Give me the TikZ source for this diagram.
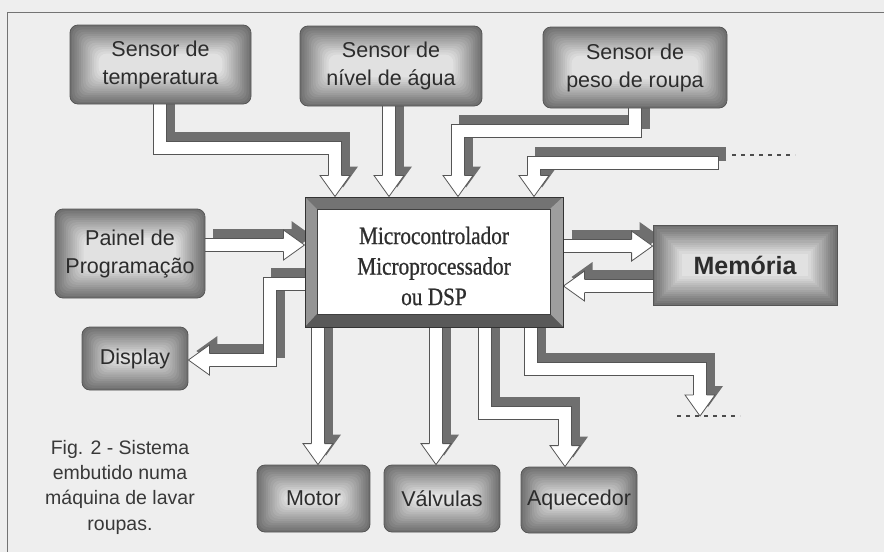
\documentclass[tikz,border=0pt]{standalone}
\usepackage{fontspec}
\setmainfont{Liberation Sans}
\newfontfamily\serfont[FakeStretch=0.85,FakeBold=0.8]{Liberation Serif}
\usetikzlibrary{calc}
\pgfdeclarelayer{bgl}
\pgfdeclarelayer{shad}
\pgfdeclarelayer{band}
\pgfsetlayers{bgl,shad,band,main}
\definecolor{bgc}{HTML}{EEEEEE}
\definecolor{txt}{HTML}{2C2C2C}
\definecolor{shc}{HTML}{6F6F6F}
\definecolor{edgec}{HTML}{555555}
\newcommand\glowfill[1]{%
  \foreach \k in {0,...,13}{%
    \pgfmathsetmacro\gc{56-3.4*\k}%
    \fill[black!\gc, rounded corners=#1]
      ($(path picture bounding box.south west)+(\k*2.2pt,\k*2.2pt)$) rectangle
      ($(path picture bounding box.north east)-(\k*2.2pt,\k*2.2pt)$);
  }}
\newcommand\fat[3]{%
  \begin{pgfonlayer}{shad}
    \begin{scope}[transform canvas={shift={(8pt,9pt)}}]
      \draw[shband] #1;
      \fill[shc, shift={(#2)}, rotate=#3] (-21,7) -- (-21,15) -- (0,0) -- (-21,-15) -- (-21,-7) -- cycle;
    \end{scope}
  \end{pgfonlayer}
  \begin{pgfonlayer}{band}
    \draw[bandout] #1;
    \draw[bandin] #1;
    \filldraw[fill=white, draw=edgec, line width=0.8pt, shift={(#2)}, rotate=#3]
      (-21,6.6) -- (-21,15) -- (0,0) -- (-21,-15) -- (-21,-6.6);
  \end{pgfonlayer}}
\tikzset{
  glow/.style={draw=edgec, line width=0.8pt, rounded corners=#1, inner sep=0pt,
    align=center, text=txt, font=\fontsize{21.5pt}{28pt}\selectfont,
    path picture={\glowfill{#1}}},
  glow/.default=8pt,
  mainbox/.style={minimum width=258pt, minimum height=130pt, inner sep=0pt,
    draw=black!80, line width=1pt, fill=black!55,
    path picture={
      \fill[black!42] (path picture bounding box.south west) -- ([shift={(12pt,13pt)}]path picture bounding box.south west)
        -- ([shift={(12pt,-12pt)}]path picture bounding box.north west) -- (path picture bounding box.north west) -- cycle;
      \fill[black!38] (path picture bounding box.south east) -- ([shift={(-13pt,13pt)}]path picture bounding box.south east)
        -- ([shift={(-13pt,-12pt)}]path picture bounding box.north east) -- (path picture bounding box.north east) -- cycle;
      \fill[black!65] (path picture bounding box.south west) -- ([shift={(12pt,13pt)}]path picture bounding box.south west)
        -- ([shift={(-13pt,13pt)}]path picture bounding box.south east) -- (path picture bounding box.south east) -- cycle;
      \filldraw[fill=white, draw=black!75, line width=0.8pt]
        ([shift={(12pt,13pt)}]path picture bounding box.south west) rectangle
        ([shift={(-13pt,-12pt)}]path picture bounding box.north east);
    }},
  shband/.style={draw=shc, line width=14pt},
  bandout/.style={draw=edgec, line width=14pt},
  bandin/.style={draw=white, line width=12.4pt},
  dots/.style={draw=black!70, line width=2.2pt, dash pattern=on 4pt off 5pt},
}
\begin{document}
\begin{tikzpicture}[x=1pt, y=1pt]
\useasboundingbox (0,0) rectangle (884,-552);
\begin{pgfonlayer}{bgl}
  \fill[bgc] (0,0) rectangle (884,-552);
  \draw[black!55, line width=0.9pt] (884,-12) -- (7,-12) -- (7,-552);
\end{pgfonlayer}

% boxes
\node[glow, minimum width=181pt, minimum height=79pt] (temp) at (160.5,-64.5) {Sensor de\\temperatura};
\node[glow, minimum width=182pt, minimum height=80pt] (nivel) at (391,-66) {Sensor de\\nível de água};
\node[glow, minimum width=184pt, minimum height=81pt] (peso) at (635,-67.5) {Sensor de\\peso de roupa};
\node[glow, minimum width=150pt, minimum height=89pt] (painel) at (130,-253.5) {Painel de\\Programação};
\node[glow, minimum width=106pt, minimum height=63pt] (disp) at (135,-358.5) {Display};
\node[mainbox] (main) at (434,-262) {};
\node[inner sep=0pt, align=center, text=black!82, font=\serfont\fontsize{25pt}{30.5pt}\selectfont] (mtext) at (434,-266) {Microcontrolador\\Microprocessador\\ou DSP};
\node[glow=0pt, minimum width=184pt, minimum height=80pt, font=\bfseries\fontsize{25pt}{30pt}\selectfont] (mem) at (745,-265) {Memória};
\node[glow, minimum width=113pt, minimum height=67pt] (motor) at (313.5,-498.5) {Motor};
\node[glow, minimum width=116pt, minimum height=67pt] (valv) at (442,-498.5) {Válvulas};
\node[glow, minimum width=116pt, minimum height=66pt] (aquec) at (579,-500) {Aquecedor};

\node[font=\fontsize{19.5pt}{25.3pt}\selectfont, text=black!78, align=center, anchor=north, inner sep=0pt] (cap) at (120,-440) {Fig. 2 - Sistema\\embutido numa\\máquina de lavar\\roupas.};

% tips and free ends
\coordinate (t1) at (335,0 |- main.north);
\coordinate (t2) at (389,0 |- main.north);
\coordinate (t3) at (458,0 |- main.north);
\coordinate (t4) at (534,0 |- main.north);
\coordinate (e4) at (718,-163);
\coordinate (tp) at (main.west |- 0,-245);
\coordinate (td) at (disp.east |- 0,-360);
\coordinate (tm1) at (mem.west |- 0,-246);
\coordinate (tm2) at (main.east |- 0,-286);
\coordinate (tmo) at (318,0 |- motor.north);
\coordinate (tv) at (436,0 |- valv.north);
\coordinate (ta) at (565,0 |- aquec.north);
\coordinate (tx) at (700,-416);

% connectors
\fat{(160,0 |- temp.south) -- (160,-148) -- (335,-148) -- ($(t1)+(0,20)$)}{t1}{-90}
\fat{(389,0 |- nivel.south) -- ($(t2)+(0,20)$)}{t2}{-90}
\fat{(635,0 |- peso.south) -- (635,-131) -- (458,-131) -- ($(t3)+(0,20)$)}{t3}{-90}
\fat{(e4) -- (534,-163) -- ($(t4)+(0,20)$)}{t4}{-90}
\fat{(painel.east |- 0,-245) -- ($(tp)+(-20,0)$)}{tp}{0}
\fat{(main.west |- 0,-284) -- (270,-284) -- (270,-360) -- ($(td)+(20,0)$)}{td}{180}
\fat{(main.east |- 0,-246) -- ($(tm1)+(-20,0)$)}{tm1}{0}
\fat{(mem.west |- 0,-286) -- ($(tm2)+(20,0)$)}{tm2}{180}
\fat{(318,0 |- main.south) -- ($(tmo)+(0,20)$)}{tmo}{-90}
\fat{(436,0 |- main.south) -- ($(tv)+(0,20)$)}{tv}{-90}
\fat{(485,0 |- main.south) -- (485,-413) -- (565,-413) -- ($(ta)+(0,20)$)}{ta}{-90}
\fat{(531,0 |- main.south) -- (531,-369) -- (700,-369) -- ($(tx)+(0,20)$)}{tx}{-90}
\begin{pgfonlayer}{band}
  \draw[edgec, line width=0.8pt] ([xshift=0.4pt,yshift=7pt]e4) -- ([xshift=0.4pt,yshift=-7pt]e4);
\end{pgfonlayer}

% dotted continuations
\coordinate (d1a) at (732,-155);
\coordinate (d1b) at (795,-155);
\coordinate (d2a) at (677,-416);
\coordinate (d2b) at (740,-416);
\draw[dots] (d1a) -- (d1b);
\draw[dots] (d2a) -- (d2b);
\end{tikzpicture}
\end{document}
